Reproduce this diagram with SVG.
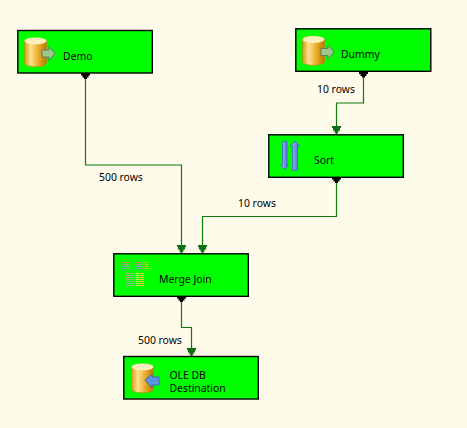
<svg xmlns="http://www.w3.org/2000/svg" width="467" height="428" viewBox="0 0 467 428">
<style>
.box{fill:#00ff00;stroke:#000;stroke-width:1.4}
.t{font-family:"Noto Sans","Liberation Sans",sans-serif;font-size:10.4px;fill:#000}
.c{fill:none;stroke:#0a7d0a;stroke-width:1.2}
</style>
<defs>
<linearGradient id="gold" x1="0" x2="1" y1="0" y2="0"><stop offset="0" stop-color="#dc9a16"/><stop offset=".28" stop-color="#fbe28e"/><stop offset=".65" stop-color="#e9a822"/><stop offset="1" stop-color="#b87606"/></linearGradient>
<linearGradient id="blue" x1="0" x2="1" y1="0" y2="0"><stop offset="0" stop-color="#a8c4f4"/><stop offset="1" stop-color="#3f69d8"/></linearGradient>
<g id="cyl"><path d="M0 4C0 0 22 0 22 4V26C22 31 0 31 0 26Z" fill="url(#gold)" stroke="#b88a20" stroke-width=".6"/><ellipse cx="11" cy="4" rx="11" ry="3.400" fill="#fdf0bc"/></g>
<g id="outarrow"><path d="M0 -3.500H7V-7L13 0L7 7V3.500H0Z" fill="#9fc98a" stroke="#5f7f60" stroke-width="1"/></g>
<g id="head"><path d="M-4.500 -8H4.500V-6H3.500V-3.500H2V-1.500H1V0H-1V-1.500H-2V-3.500H-3.500V-6H-4.500Z" fill="#0a6f12"/></g>
<g id="dot"><path d="M-4.500 0H4.500V2.500H3V4.500H1.500V6H-1.500V4.500H-3V2.500H-4.500Z" fill="#000"/></g>
<g id="b2"><path d="M0 0h4" stroke-width="1"/><path d="M4.500 0h4" stroke-width="1" stroke="#8fb87a"/></g>
<g id="b3"><path d="M0 0h4" stroke-width="1" stroke="#d8e850"/><path d="M4.500 0h4" stroke-width="1" stroke="#f0c840"/></g>
</defs>
<rect width="467" height="428" fill="#fffbeb"/>
<g id="connectors">
<path class="c" d="M85.500 74V165H181.500V247"/>
<path class="c" d="M363.500 72V103H336.500V128"/>
<path class="c" d="M336.500 177V216.500H202.500V247"/>
<path class="c" d="M181.500 296V327.500H191.500V350"/>
<use href="#head" x="181.500" y="253"/>
<use href="#head" x="202.500" y="253"/>
<use href="#head" x="336.500" y="134"/>
<use href="#head" x="191.500" y="356"/>
<use href="#dot" x="85.500" y="73"/>
<use href="#dot" x="363.500" y="71.500"/>
<use href="#dot" x="336.500" y="177"/>
<use href="#dot" x="181.500" y="296"/>
<text class="t" x="99" y="181">500 rows</text>
<text class="t" x="317" y="93">10 rows</text>
<text class="t" x="238" y="207">10 rows</text>
<text class="t" x="138" y="344">500 rows</text>
</g>
<g id="demo">
<rect class="box" x="17.800" y="30.500" width="134.500" height="42.500"/>
<use href="#cyl" x="24.500" y="37"/>
<use href="#outarrow" x="42" y="53.500"/>
<text class="t" x="63" y="60">Demo</text>
</g>
<g id="dummy">
<rect class="box" x="295.800" y="28.800" width="135" height="42.500"/>
<use href="#cyl" x="302.500" y="35.500"/>
<use href="#outarrow" x="321" y="52"/>
<text class="t" x="341" y="58">Dummy</text>
</g>
<g id="sort">
<rect class="box" x="268.800" y="134.800" width="134.500" height="42.500"/>
<path d="M282.500 141.500H287V165H288.500L284.700 170L280.500 165H282.500Z" fill="url(#blue)" stroke="#3a5fc0" stroke-width=".7"/>
<path d="M292.500 170.500V146H290L295 141L299.500 146H297.500V170.500Z" fill="url(#blue)" stroke="#3a5fc0" stroke-width=".7"/>
<text class="t" x="314" y="164">Sort</text>
</g>
<g id="merge-join">
<rect class="box" x="113.800" y="253.800" width="134.500" height="42.500"/>
<use href="#b2" x="121" y="262.500" stroke="#e06a80"/>
<use href="#b2" x="121" y="264.500" stroke="#e07a70"/>
<use href="#b2" x="121" y="266.500" stroke="#60a8d8"/>
<use href="#b2" x="121" y="268.500" stroke="#60a8d8"/>
<use href="#b2" x="135.500" y="262.500" stroke="#e06a80"/>
<use href="#b2" x="135.500" y="264.500" stroke="#e07a70"/>
<use href="#b2" x="135.500" y="266.500" stroke="#60a8d8"/>
<use href="#b2" x="135.500" y="268.500" stroke="#60a8d8"/>
<path d="M144.500 262.500h4M144.500 264.500h4M144.500 266.500h4M144.500 268.500h4" stroke="#f0b030" stroke-width="1"/>
<use href="#b2" x="125.500" y="273.500" stroke="#c8a070"/>
<use href="#b2" x="125.500" y="275.500" stroke="#b8b070"/>
<use href="#b2" x="125.500" y="277.500" stroke="#c8a070"/>
<use href="#b2" x="125.500" y="279.500" stroke="#b8b070"/>
<use href="#b2" x="125.500" y="281.500" stroke="#80b890"/>
<use href="#b2" x="125.500" y="283.500" stroke="#80b890"/>
<use href="#b2" x="125.500" y="285.500" stroke="#80b890"/>
<use href="#b3" x="135.500" y="273.500"/>
<use href="#b3" x="135.500" y="275.500"/>
<use href="#b3" x="135.500" y="277.500"/>
<use href="#b3" x="135.500" y="279.500"/>
<use href="#b3" x="135.500" y="281.500"/>
<use href="#b3" x="135.500" y="283.500"/>
<use href="#b3" x="135.500" y="285.500"/>
<text class="t" x="159" y="283">Merge Join</text>
</g>
<g id="ole-db-destination">
<rect class="box" x="123.800" y="356.500" width="134.500" height="42.500"/>
<use href="#cyl" x="131.500" y="363"/>
<path d="M145 380L152 374V377H159V385H152V388Z" fill="#5f93e8" stroke="#2f5fb0" stroke-width=".8"/>
<text class="t" x="169.500" y="379">OLE DB</text>
<text class="t" x="169.500" y="392">Destination</text>
</g>
</svg>
